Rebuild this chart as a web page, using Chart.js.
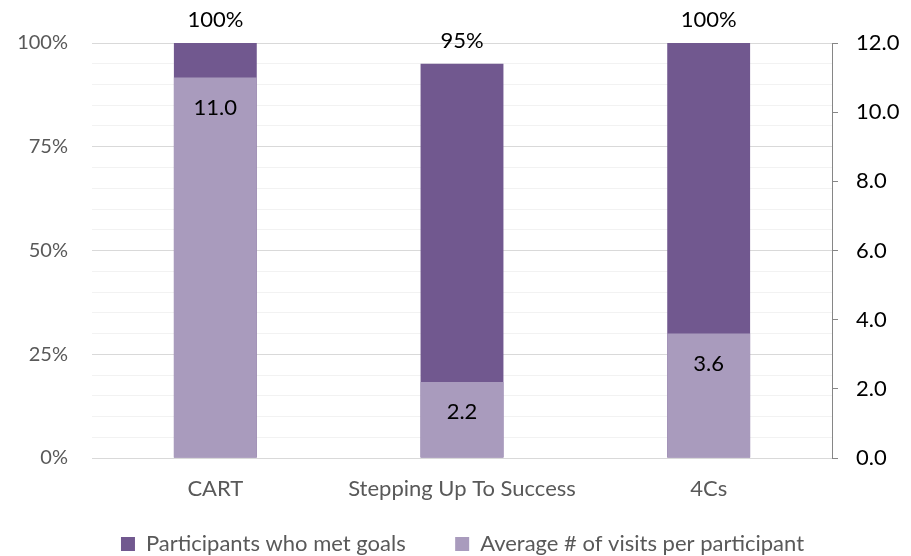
<!DOCTYPE html>
<html>
<head>
<meta charset="utf-8">
<script src="https://cdn.jsdelivr.net/npm/chart.js@4"></script>
<style>
  html, body { margin: 0; padding: 0; background: #fff; }
  #wrap { width: 911px; height: 556px; }
</style>
</head>
<body>
<div id="wrap"><canvas id="grafica"></canvas></div>
<script>
// data
const categorias = ['CART', 'Stepping Up To Success', '4Cs'];
const metGoals = [100, 95, 100];          // % participants who met goals (left axis)
const avgVisits = [11.0, 2.2, 3.6];       // average visits per participant (right axis)
const labelsPct = ['0%', '25%', '50%', '75%', '100%'];

const oscuro = '#71588F';
const claro = '#A99BBD';

// draws the value labels the way the original shows them
const etiquetas = {
    id: 'etiquetas',
    afterDatasetsDraw(chart) {
        const ctx = chart.ctx;
        ctx.save();
        ctx.font = '22px Lato';
        ctx.fillStyle = '#000';
        ctx.textAlign = 'center';
        ctx.textBaseline = 'middle';
        chart.getDatasetMeta(0).data.forEach((bar, i) => {
            ctx.fillText(metGoals[i] + '%', bar.x, bar.y - 23);
        });
        chart.getDatasetMeta(1).data.forEach((bar, i) => {
            ctx.fillText(avgVisits[i].toFixed(1), bar.x, bar.y + 30);
        });
        ctx.restore();
    }
};

// nudge the legend a bit to the right, like the original
const moverLeyenda = {
    id: 'moverLeyenda',
    afterLayout(chart) {
        chart.legend.left += 7;
        chart.legend.right += 7;
    }
};

var ctx = document.getElementById('grafica').getContext('2d');
var chart = new Chart(ctx, {
    type: 'bar',
    data: {
        labels: categorias,
        datasets: [{
            label: 'Participants who met goals',
            data: metGoals,
            backgroundColor: oscuro,
            yAxisID: 'y',
            order: 1,
            grouped: false,
            barPercentage: 0.336,
            categoryPercentage: 1
        }, {
            label: 'Average # of visits per participant',
            data: avgVisits,
            backgroundColor: claro,
            yAxisID: 'y2',
            order: 0,
            grouped: false,
            barPercentage: 0.336,
            categoryPercentage: 1
        }]
    },
    options: {
        responsive: true,
        maintainAspectRatio: false,
        animation: false,
        layout: { padding: { top: 43, bottom: -9, left: 0, right: 0 } },
        plugins: {
            tooltip: { enabled: false },
            legend: {
                position: 'bottom',
                labels: {
                    font: { family: 'Lato', size: 22 },
                    color: '#595959',
                    boxWidth: 14,
                    boxHeight: 14,
                    padding: 10,
                    generateLabels: (chart) => chart.data.datasets.map((ds, i) => ({
                        text: i === 0 ? ds.label + '       ' : ds.label,
                        fillStyle: ds.backgroundColor,
                        strokeStyle: ds.backgroundColor,
                        lineWidth: 0,
                        fontColor: '#595959',
                        datasetIndex: i
                    }))
                }
            }
        },
        scales: {
            x: {
                grid: { display: false },
                border: { display: false },
                ticks: { font: { family: 'Lato', size: 22 }, color: '#595959', padding: 10 },
                afterFit: (s) => { s.height = 65; }
            },
            y: {
                position: 'left',
                min: 0,
                max: 100,
                ticks: {
                    stepSize: 5,
                    autoSkip: false,
                    padding: 24,
                    font: { family: 'Lato', size: 20 },
                    color: '#595959',
                    callback: (v) => v % 25 === 0 ? labelsPct[v / 25] : ''
                },
                grid: {
                    drawTicks: false,
                    color: (c) => c.tick.value % 25 === 0 ? '#D9D9D9' : '#F2F2F2'
                },
                border: { display: false },
                afterFit: (s) => { s.width = 92; }
            },
            y2: {
                position: 'right',
                min: 0,
                max: 12,
                ticks: {
                    stepSize: 2,
                    padding: 18,
                    font: { family: 'Lato', size: 22 },
                    color: '#000',
                    callback: (v) => v.toFixed(1)
                },
                grid: { drawOnChartArea: false, tickLength: 6, color: '#868686' },
                border: { color: '#868686' },
                afterFit: (s) => { s.width = 79; }
            }
        }
    },
    plugins: [etiquetas, moverLeyenda]
});
</script>
</body>
</html>
